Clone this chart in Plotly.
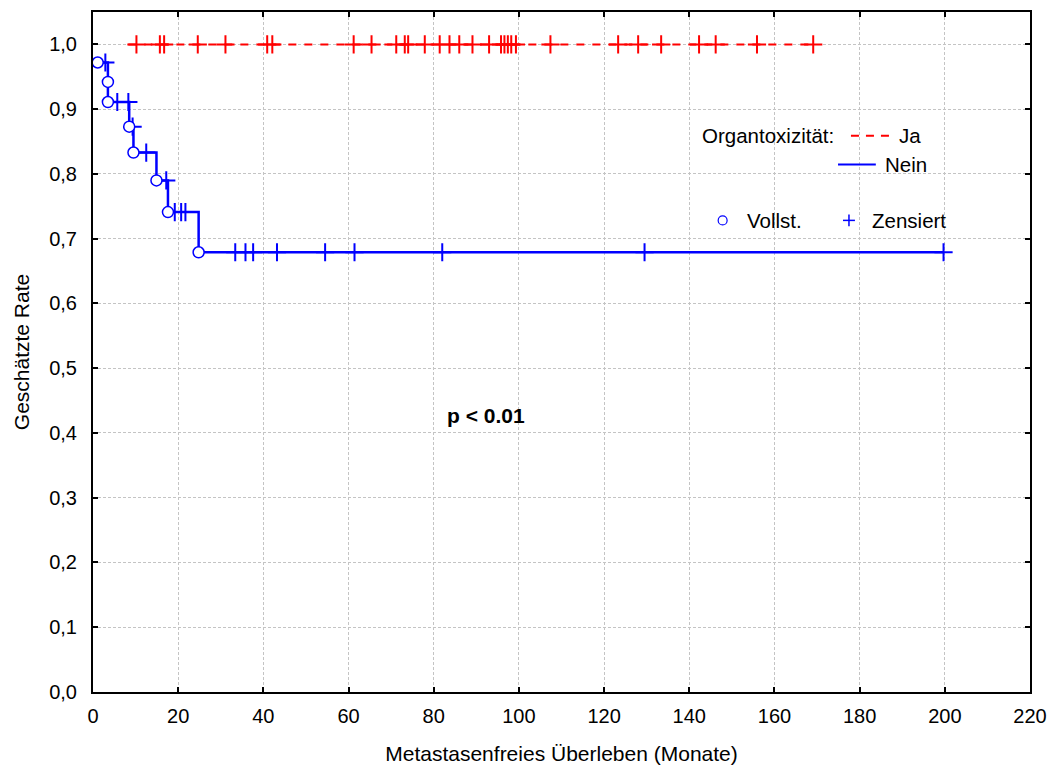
import plotly.graph_objects as go

# Kaplan-Meier data: metastasis-free survival (months) by organ toxicity
# Group "Nein": event times and estimated rate after each event
nein_event_t = [1.1, 3.5, 3.5, 8.5, 9.5, 14.9, 17.6, 24.8]
nein_event_rate = [0.972, 0.942, 0.911, 0.873, 0.833, 0.790, 0.741, 0.679]
# Group "Nein": censored observations (months)
nein_censor_t = [2.9, 5.7, 8.3, 9.3, 12.5, 17.2, 19.2, 20.7, 21.7,
                 33.4, 35.8, 37.6, 43.2, 54.5, 61.4, 82.0, 129.5, 199.7]

# Group "Ja": no events, only censored observations
ja_start_t = 8.3
ja_rate = 1.0
ja_censor_t = [10.2, 15.7, 16.7, 24.6, 31.1, 40.9, 42.1, 61.2, 65.4, 71.2,
               73.2, 74.0, 77.9, 81.4, 83.7, 86.0, 89.1, 93.0, 95.8, 96.6,
               97.4, 98.2, 99.3, 107.4, 123.3, 128.0, 133.4, 142.3, 146.2,
               155.9, 169.1]

x_ticks = list(range(0, 221, 20))
y_ticks = [i / 10 for i in range(0, 11)]

p_text = "p < 0.01"
p_pos = (92.3, 0.427)

RED = "#ff0000"
BLUE = "#0000ff"
FONT = "Liberation Sans, Arial, sans-serif"


def rate_at(t):
    r = 1.0
    for et, er in zip(nein_event_t, nein_event_rate):
        if et <= t:
            r = er
    return r


fig = go.Figure()

# Ja: flat dashed curve with censor marks
fig.add_trace(go.Scatter(
    x=[ja_start_t, max(ja_censor_t)], y=[ja_rate, ja_rate],
    mode="lines", line=dict(color=RED, width=2, dash="8px,8px"),
    hoverinfo="skip", showlegend=False))
fig.add_trace(go.Scatter(
    x=ja_censor_t, y=[ja_rate] * len(ja_censor_t), mode="markers",
    marker=dict(symbol="cross-thin", size=13, color=RED,
                line=dict(color=RED, width=2)),
    showlegend=False))

# Nein: step curve
last_t = max(nein_censor_t)
fig.add_trace(go.Scatter(
    x=nein_event_t + [last_t], y=nein_event_rate + [nein_event_rate[-1]],
    mode="lines", line=dict(color=BLUE, width=2.5, shape="hv"),
    hoverinfo="skip", showlegend=False))
fig.add_trace(go.Scatter(
    x=nein_censor_t, y=[rate_at(t) for t in nein_censor_t], mode="markers",
    marker=dict(symbol="cross-thin", size=13, color=BLUE,
                line=dict(color=BLUE, width=2)),
    showlegend=False))
fig.add_trace(go.Scatter(
    x=nein_event_t, y=nein_event_rate, mode="markers",
    marker=dict(symbol="circle", size=11, color="white",
                line=dict(color=BLUE, width=1.5)),
    showlegend=False))

# Plot area in pixels
L, R, T, B = 93, 1035, 10, 692
W, H = 1057, 773


def px(x, y):
    return (x - L) / (R - L), (B - y) / (B - T)


shapes = []
annotations = []


def line_shape(x0, y0, x1, y1, color, width, dash="solid"):
    a, b = px(x0, y0)
    c, d = px(x1, y1)
    shapes.append(dict(type="line", xref="paper", yref="paper",
                       x0=a, y0=b, x1=c, y1=d,
                       line=dict(color=color, width=width, dash=dash)))


def text(x, y, s, anchor="left", size=20.5, bold=False):
    a, b = px(x, y)
    annotations.append(dict(
        xref="paper", yref="paper", x=a, y=b, text=f"<b>{s}</b>" if bold else s,
        showarrow=False, xanchor=anchor, yanchor="middle",
        font=dict(family=FONT, size=size, color="black")))


# Legend
text(703, 134, "Organtoxizität:")
line_shape(855, 134, 894, 134, RED, 2, "8px,7px")
text(901, 134, "Ja")
line_shape(842, 163, 880, 163, BLUE, 2)
text(887, 163, "Nein")
cx0, cy0 = px(721.5, 214.5)
cx1, cy1 = px(730.5, 223.5)
shapes.append(dict(type="circle", xref="paper", yref="paper",
                   x0=cx0, y0=cy0, x1=cx1, y1=cy1,
                   line=dict(color=BLUE, width=1.2)))
text(748, 219, "Vollst.")
line_shape(847, 219, 859, 219, BLUE, 1.5)
line_shape(853, 213, 853, 225, BLUE, 1.5)
text(874, 219, "Zensiert")

annotations.append(dict(
    xref="x", yref="y", x=p_pos[0], y=p_pos[1], text=f"<b>{p_text}</b>",
    showarrow=False, xanchor="center", yanchor="middle",
    font=dict(family=FONT, size=21, color="black")))

axis_common = dict(
    showline=True, linecolor="black", linewidth=2, mirror="ticks",
    ticks="inside", ticklen=5, tickwidth=1.5, tickcolor="black",
    showgrid=True, gridcolor="#c4c4c4", gridwidth=1, griddash="3px,2px",
    zeroline=False, tickfont=dict(family=FONT, size=20, color="black"),
)

fig.update_layout(
    width=W, height=H,
    margin=dict(l=L, r=W - R, t=T, b=H - B),
    paper_bgcolor="white", plot_bgcolor="white",
    separators=",.",
    shapes=shapes, annotations=annotations,
    xaxis=dict(range=[0, 220], tickvals=x_ticks, ticklabelstandoff=5,
               title=dict(text="Metastasenfreies Überleben (Monate)",
                          font=dict(family=FONT, size=21, color="black"),
                          standoff=20),
               **axis_common),
    yaxis=dict(range=[0, 1.05], tickvals=y_ticks, tickformat=".1f",
               ticklabelstandoff=10,
               title=dict(text="Geschätzte Rate",
                          font=dict(family=FONT, size=21, color="black"),
                          standoff=14),
               **axis_common),
)

fig.write_html("out.html")
